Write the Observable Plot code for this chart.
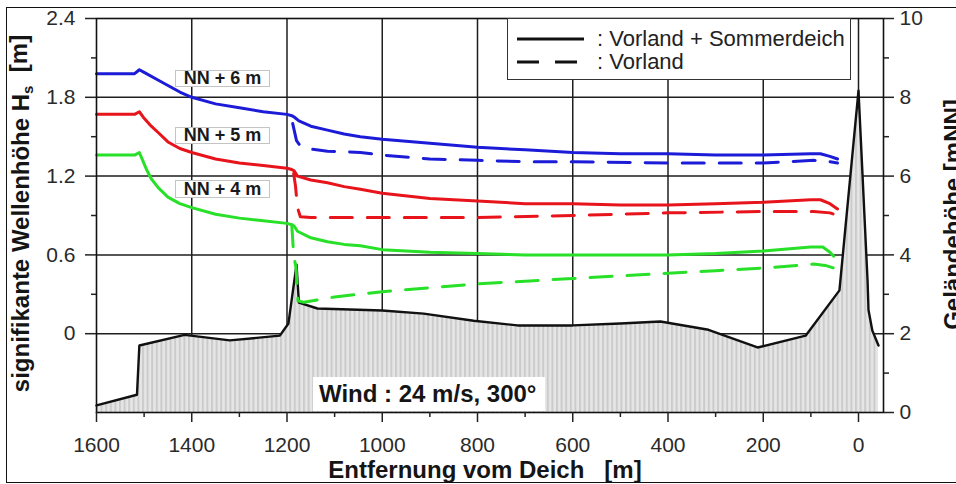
<!DOCTYPE html>
<html><head><meta charset="utf-8">
<script src="https://cdn.jsdelivr.net/npm/d3@7"></script>
<script src="https://cdn.jsdelivr.net/npm/@observablehq/plot@0.6"></script>
<style>
html,body{margin:0;padding:0;background:#fff;overflow:hidden}
#wrap{position:relative;width:956px;height:484px;font-family:"Liberation Sans",Arial,sans-serif;overflow:hidden}
#wrap svg text{white-space:pre}
.box{position:absolute;background:#fff;box-sizing:border-box}
.nn{border:1px solid #c4c4c4;font-weight:bold;font-size:18px;color:#1a1a1a;display:flex;align-items:center;justify-content:center;white-space:pre}
</style></head><body><div id="wrap"></div>
<script>
// ---- data (distance from dike [m], value) ----
const blueSolid = [[1600,1.98],[1520,1.98],[1510,2.01],[1500,1.99],[1470,1.93],[1450,1.89],[1425,1.84],[1400,1.80],[1350,1.75],[1300,1.72],[1250,1.69],[1200,1.67],[1190,1.66],[1185,1.65],[1175,1.62],[1150,1.58],[1115,1.55],[1080,1.52],[1046,1.50],[1000,1.48],[900,1.45],[800,1.42],[700,1.40],[600,1.38],[500,1.37],[400,1.37],[300,1.36],[200,1.36],[100,1.37],[80,1.37],[60,1.35],[44,1.33]];
const redSolid = [[1600,1.67],[1520,1.67],[1510,1.69],[1500,1.64],[1485,1.58],[1470,1.53],[1450,1.46],[1425,1.41],[1400,1.38],[1350,1.33],[1300,1.30],[1250,1.28],[1200,1.26],[1190,1.25],[1185,1.24],[1178,1.20],[1150,1.17],[1115,1.15],[1080,1.12],[1046,1.10],[1000,1.07],[900,1.03],[800,1.01],[700,0.99],[600,0.99],[500,0.98],[400,0.98],[300,0.99],[200,1.00],[100,1.02],[80,1.02],[60,0.99],[44,0.95]];
const greenSolid = [[1600,1.36],[1520,1.36],[1510,1.38],[1503,1.32],[1495,1.25],[1485,1.18],[1470,1.11],[1450,1.04],[1425,0.99],[1400,0.96],[1350,0.91],[1300,0.88],[1250,0.86],[1200,0.84],[1190,0.83],[1185,0.82],[1178,0.78],[1150,0.73],[1115,0.70],[1080,0.68],[1046,0.67],[1000,0.64],[900,0.62],[800,0.61],[700,0.60],[600,0.60],[500,0.60],[400,0.60],[300,0.61],[200,0.63],[100,0.66],[75,0.66],[60,0.62],[52,0.59]];
const blueDashed = [[1188,1.60],[1180,1.47],[1172,1.43],[1160,1.41],[1115,1.39],[1046,1.38],[1000,1.36],[900,1.33],[800,1.32],[700,1.31],[600,1.31],[400,1.30],[200,1.30],[94,1.32],[60,1.31],[44,1.30]];
const redDashed = [[1186,1.22],[1182,1.12],[1178,0.96],[1172,0.89],[1150,0.885],[1000,0.885],[800,0.885],[600,0.90],[400,0.92],[200,0.93],[94,0.93],[60,0.92],[52,0.91]];
const greenDashed = [[1190,0.83],[1186,0.60],[1181,0.50],[1177,0.25],[1165,0.24],[1100,0.28],[1000,0.32],[900,0.35],[800,0.38],[700,0.40],[600,0.42],[500,0.44],[400,0.46],[300,0.48],[200,0.50],[94,0.53],[70,0.52],[52,0.50]];
// terrain profile (right axis, m NN)
const terrainDist = [1600,1515,1510,1415,1320,1215,1197,1180,1175,1136,1000,913,808,716,600,500,416,315,212,111,40,0,-19,-21,-29,-42];
const terrainElev = [0.18,0.45,1.70,1.97,1.83,1.95,2.26,3.75,2.79,2.64,2.59,2.51,2.33,2.21,2.21,2.26,2.31,2.10,1.65,1.95,3.10,8.17,3.35,2.60,2.08,1.70];
// ticks
const xMajor = [1600,1400,1200,1000,800,600,400,200,0];
const xMinor = [1500,1300,1100,900,700,500,300,100];
const yMajor = [0,0.6,1.2,1.8,2.4];
const yMinor = [0.3,0.9,1.5,2.1];
const rMajor = [0,2,4,6,8,10];
const rMinor = [1,3,5,7,9];
const gridX = [1400,1200,1000,800,600,400,200,0];
const gridY = [0,0.6,1.2,1.8];
// texts
const xTitle = "Entfernung vom Deich   [m]";
const yTitleMain = "signifikante Wellenhöhe H", yTitleSub = "s", yTitleEnd = "  [m]";
const rTitle = "Geländehöhe [mNN]";
const legendLabels = [": Vorland + Sommerdeich", ": Vorland"];
const nnLabels = ["NN + 6 m", "NN + 5 m", "NN + 4 m"];
const windLabel = "Wind : 24 m/s, 300°";

const BLUE = "#1c1cd8", RED = "#e8141c", GREEN = "#28e028";
const toHs = v => (v - 2) * 0.3; // right axis (m NN) -> left axis scale
const terrain = terrainDist.map((d, i) => ({d, e: terrainElev[i]}));
const ser = (data, color, dashed) => Plot.line(data, {x: d => d[0], y: d => d[1], stroke: color, strokeWidth: 3, strokeDasharray: dashed ? "22,15" : null});
const titleStyle = {fontSize: 24, fontWeight: "bold", fill: "#151515", textAnchor: "middle", lineAnchor: "middle"};

const plot = Plot.plot({
  width: 956, height: 484,
  marginLeft: 96, marginRight: 73, marginTop: 18, marginBottom: 72,
  x: {domain: [1600, -52.5]},
  y: {domain: [-0.6, 2.4]},
  style: {fontFamily: '"Liberation Sans", Arial, sans-serif', fontSize: "21px", color: "#222", background: "transparent", overflow: "visible"},
  marks: [
    Plot.ruleX(gridX, {stroke: "#1e1e1e", strokeWidth: 1.5}),
    Plot.ruleY(gridY, {stroke: "#1e1e1e", strokeWidth: 1.5}),
    Plot.areaY(terrain, {x: "d", y1: () => toHs(0), y2: d => toHs(d.e), fill: "url(#hatch)"}),
    Plot.line(terrain, {x: "d", y: d => toHs(d.e), stroke: "#111", strokeWidth: 2.4}),
    ser(greenDashed, GREEN, true), ser(redDashed, RED, true), ser(blueDashed, BLUE, true),
    ser(greenSolid, GREEN), ser(redSolid, RED), ser(blueSolid, BLUE),
    Plot.frame({stroke: "#111", strokeWidth: 1.6}),
    Plot.axisX({ticks: xMajor, tickSize: 10, tickPadding: 15, tickFormat: d => String(d), label: null, strokeWidth: 1.5, fill: "#2a2a2a"}),
    Plot.axisX({ticks: xMinor, tickSize: 5, tickFormat: () => "", label: null, strokeWidth: 1.5}),
    Plot.axisY({ticks: yMajor, tickSize: 11, tickPadding: 10, tickFormat: d => d === 0 ? "0" : d.toFixed(1), label: null, strokeWidth: 1.5, fill: "#2a2a2a"}),
    Plot.axisY({ticks: yMinor, tickSize: 5, tickFormat: () => "", label: null, strokeWidth: 1.5}),
    Plot.axisY({anchor: "right", ticks: rMajor.map(toHs), tickSize: 10, tickPadding: 6, tickFormat: d => String(Math.round(d / 0.3 + 2)), label: null, strokeWidth: 1.5, fill: "#2a2a2a"}),
    Plot.axisY({anchor: "right", ticks: rMinor.map(toHs), tickSize: 5, tickFormat: () => "", label: null, strokeWidth: 1.5}),
    Plot.text([xTitle], {text: d => d, frameAnchor: "bottom", dy: 58, dx: -5, ...titleStyle}),
    Plot.text([yTitleMain + yTitleSub + yTitleEnd], {text: d => d, frameAnchor: "left", rotate: -90, dx: -75, dy: -2, ...titleStyle}),
    Plot.text([rTitle], {text: d => d, frameAnchor: "right", rotate: -90, dx: 70, dy: -1, ...titleStyle})
  ]
});

// hatch pattern for the terrain fill
d3.select(plot).insert("defs", ":first-child").html(
  '<pattern id="hatch" patternUnits="userSpaceOnUse" x="96" y="0" width="4.6" height="10">' +
  '<rect width="4.6" height="10" fill="#e6e6e6"/><rect width="2" height="10" fill="#cbcbcb"/></pattern>');

// subscript in the left title
d3.select(plot).selectAll("text").filter(function () { return this.textContent === yTitleMain + yTitleSub + yTitleEnd; })
  .each(function () {
    const t = d3.select(this); t.text("");
    t.append("tspan").text(yTitleMain);
    t.append("tspan").attr("dy", "0.28em").attr("font-size", "15px").text(yTitleSub);
    t.append("tspan").attr("dy", "-0.28em").text(yTitleEnd);
  });

const wrap = document.getElementById("wrap");
wrap.appendChild(plot);
plot.style.position = "absolute"; plot.style.left = "0"; plot.style.top = "0";

// outer border of the figure
const border = document.createElement("div");
border.style.cssText = "position:absolute;left:6px;top:7px;width:980px;height:476px;border:1.5px solid #111;box-sizing:border-box;pointer-events:none";
wrap.appendChild(border);

// legend
const leg = document.createElement("div");
leg.className = "box";
leg.style.cssText += "left:507px;top:18px;width:344px;height:62px;border:1.5px solid #333;";
leg.innerHTML = '<svg width="341" height="59" style="position:absolute;left:0;top:0;font-family:\'Liberation Sans\',Arial,sans-serif">' +
  '<line x1="9" x2="76" y1="20" y2="20" stroke="#111" stroke-width="3"/>' +
  '<line x1="9" x2="76" y1="43" y2="43" stroke="#111" stroke-width="3" stroke-dasharray="22,16"/>' +
  '<text x="89" y="27" font-size="22" fill="#222"></text><text x="89" y="50" font-size="22" fill="#222"></text></svg>';
const lt = leg.querySelectorAll("text");
lt[0].textContent = legendLabels[0]; lt[1].textContent = legendLabels[1];
wrap.appendChild(leg);

// NN labels
[[70, 17], [127, 17], [180, 18]].forEach(([top, h], i) => {
  const b = document.createElement("div");
  b.className = "box nn";
  b.style.cssText += `left:175px;top:${top}px;width:95px;height:${h}px;`;
  b.textContent = nnLabels[i];
  wrap.appendChild(b);
});

// wind label
const w = document.createElement("div");
w.className = "box";
w.style.cssText += "left:313px;top:377px;width:232px;height:34px;font-weight:bold;font-size:24px;color:#151515;padding-left:6px;line-height:34px;white-space:pre";
w.textContent = windLabel;
wrap.appendChild(w);
</script></body></html>
